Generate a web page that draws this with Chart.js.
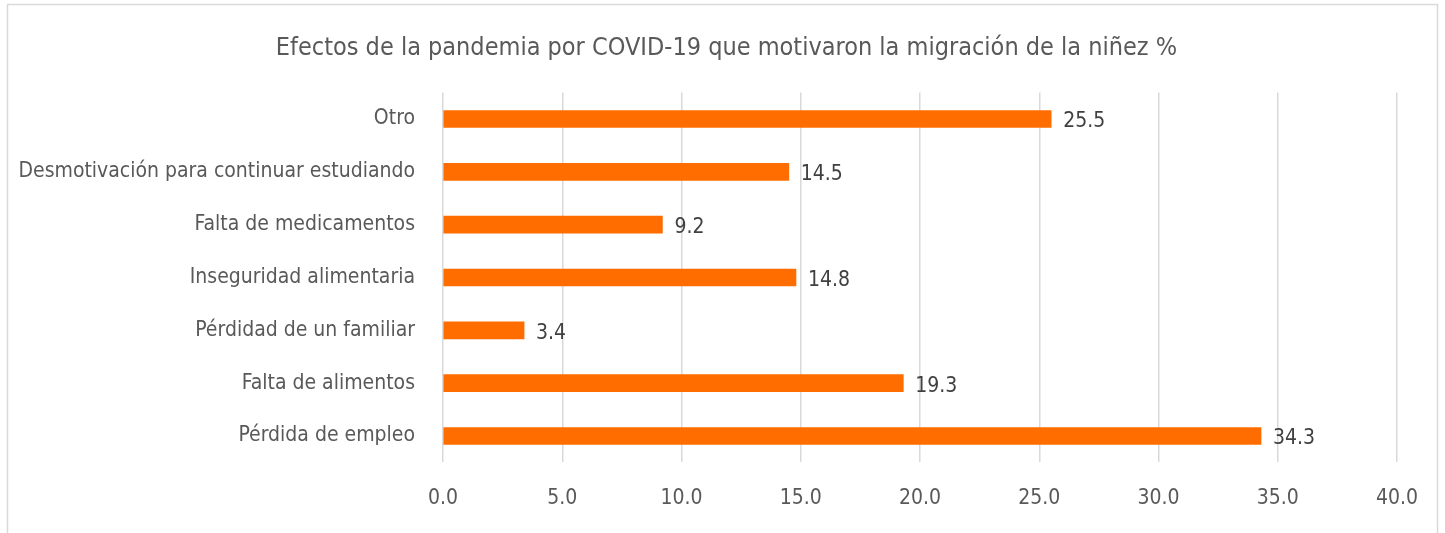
<!DOCTYPE html>
<html>
<head>
<meta charset="utf-8">
<script src="https://cdn.jsdelivr.net/npm/chart.js@4"></script>
<style>
html,body{margin:0;padding:0;background:#fff;}
#wrap{position:relative;width:1445px;height:533px;}
</style>
</head>
<body>
<div id="wrap"><canvas id="c" width="1445" height="533"></canvas></div>
<script>
const titleText = 'Efectos de la pandemia por COVID-19 que motivaron la migración de la niñez %';
const categories = [
  'Otro',
  'Desmotivación para continuar estudiando',
  'Falta de medicamentos',
  'Inseguridad alimentaria',
  'Pérdidad de un familiar',
  'Falta de alimentos',
  'Pérdida de empleo'
];
const values = [25.5, 14.5, 9.2, 14.8, 3.4, 19.3, 34.3];
const xMin = 0, xMax = 40, xStep = 5;

const FONT = "'Liberation Sans Narrow', 'DejaVu Sans Condensed', 'Roboto', sans-serif";

const frame = {
  id: 'frame',
  beforeDraw(chart) {
    const ctx = chart.ctx;
    ctx.save();
    ctx.fillStyle = '#ffffff';
    ctx.fillRect(0, 0, chart.width, chart.height);
    ctx.strokeStyle = '#d9d9d9';
    ctx.lineWidth = 1.5;
    ctx.strokeRect(7.5, 4.5, 1430, 600);
    ctx.restore();
  }
};

// centre the title over the whole frame rather than the padded area
const titleCentre = {
  id: 'titleCentre',
  afterLayout(chart) {
    if (chart.titleBlock) {
      chart.titleBlock.left = 8;
      chart.titleBlock.right = 1445;
    }
  }
};

const valueLabels = {
  id: 'valueLabels',
  afterDatasetsDraw(chart) {
    const ctx = chart.ctx;
    const meta = chart.getDatasetMeta(0);
    ctx.save();
    ctx.font = '21px ' + FONT;
    ctx.fillStyle = '#404040';
    ctx.textAlign = 'left';
    ctx.textBaseline = 'middle';
    meta.data.forEach((bar, i) => {
      ctx.fillText(values[i].toFixed(1), bar.x + 12, bar.y + 3);
    });
    ctx.restore();
  }
};

new Chart(document.getElementById('c'), {
  type: 'bar',
  data: {
    labels: categories,
    datasets: [{
      data: values,
      backgroundColor: '#ff6d00',
      borderWidth: 0,
      barThickness: 17
    }]
  },
  options: {
    indexAxis: 'y',
    responsive: false,
    animation: false,
    devicePixelRatio: 1,
    layout: { padding: { left: 0, right: 48, top: 0, bottom: 0 } },
    plugins: {
      legend: { display: false },
      tooltip: { enabled: false },
      title: {
        display: true,
        text: titleText,
        color: '#595959',
        font: { family: FONT, size: 25, weight: 'normal' },
        padding: { top: 33, bottom: 29.6 }
      }
    },
    scales: {
      x: {
        min: xMin,
        max: xMax,
        ticks: {
          stepSize: xStep,
          color: '#595959',
          font: { family: FONT, size: 21 },
          padding: 24,
          callback: (v) => Number(v).toFixed(1)
        },
        grid: { color: '#d9d9d9', lineWidth: 1.5, drawTicks: false },
        border: { display: false },
        afterFit(scale) { scale.height = 70.6; }
      },
      y: {
        ticks: {
          color: '#595959',
          font: { family: FONT, size: 21 },
          padding: 28
        },
        grid: { display: false, drawTicks: false },
        border: { display: false },
        afterFit(scale) { scale.width = 443; }
      }
    }
  },
  plugins: [frame, titleCentre, valueLabels]
});
</script>
</body>
</html>
